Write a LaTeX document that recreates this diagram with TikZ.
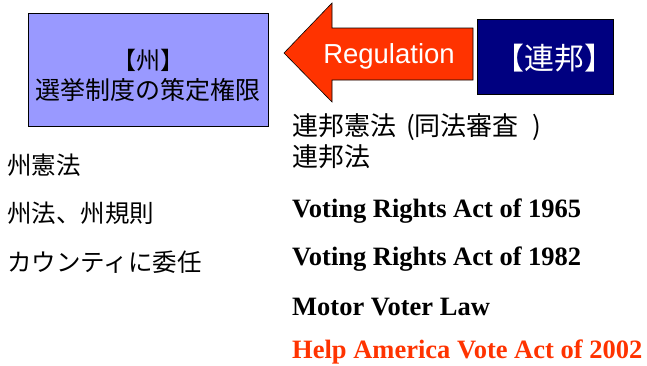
\documentclass[tikz,border=0pt]{standalone}
\usepackage{fontspec}
\setmainfont{Noto Sans CJK JP}
\newfontfamily\latinsans{Liberation Sans}
\newfontfamily\latinserif{Liberation Serif}
\definecolor{statefill}{HTML}{9999FF}
\definecolor{fedfill}{HTML}{000080}
\definecolor{regred}{HTML}{FF3300}
\begin{document}
\begin{tikzpicture}[x=1pt,y=-1pt,
  jp/.style={inner sep=0pt,anchor=west,font=\fontsize{24.5}{26}\selectfont},
  law/.style={inner sep=0pt,anchor=west,font=\latinserif\bfseries\fontsize{26.5}{28}\selectfont}]
\useasboundingbox (0,0) rectangle (647,365);
% state box
\node[draw=black,line width=1pt,fill=statefill,minimum width=240pt,minimum height=113pt,inner sep=0pt] (state) at (148,69.5) {};
\node[inner sep=0pt,font=\fontsize{24}{26}\selectfont] (statehead) at (148,60) {【州】};
\node[inner sep=0pt,font=\fontsize{25}{27}\selectfont] (statebody) at (148,90) {選挙制度の策定権限};
% arrow
\draw[fill=regred,draw=black,line width=0.6pt] (284,53) -- (332,3) -- (332,28) -- (473,28) -- (473,80) -- (332,80) -- (332,102) -- cycle;
\node[inner sep=0pt,text=white,font=\latinsans\fontsize{27.5}{29}\selectfont] (reg) at (389,56) {Regulation};
% federal box
\node[draw=black,line width=1pt,fill=fedfill,minimum width=136pt,minimum height=75pt,inner sep=0pt] (fed) at (545,56.5) {};
\node[inner sep=0pt,text=white,font=\fontsize{30}{32}\selectfont] (fedtext) at (554,58) {【連邦】};
% right texts
\node[jp,font=\fontsize{26}{28}\selectfont] (fedconst) at (292,127) {連邦憲法\hspace{10pt}(同法審査\hspace{14pt})};
\node[jp,font=\fontsize{26}{28}\selectfont] (fedlaw) at (292,157) {連邦法};
% left texts
\node[jp] (stconst) at (7,165) {州憲法};
\node[jp] (stlaw) at (7,213) {州法、州規則};
\node[jp] (county) at (7,262) {カウンティに委任};
% laws
\node[law] (vra65) at (292,211) {Voting Rights Act of 1965};
\node[law] (vra82) at (292,259) {Voting Rights Act of 1982};
\node[law] (mvl) at (292,307.5) {Motor Voter Law};
\node[law,text=regred] (hava) at (292,352) {Help America Vote Act of 2002};
\end{tikzpicture}
\end{document}
